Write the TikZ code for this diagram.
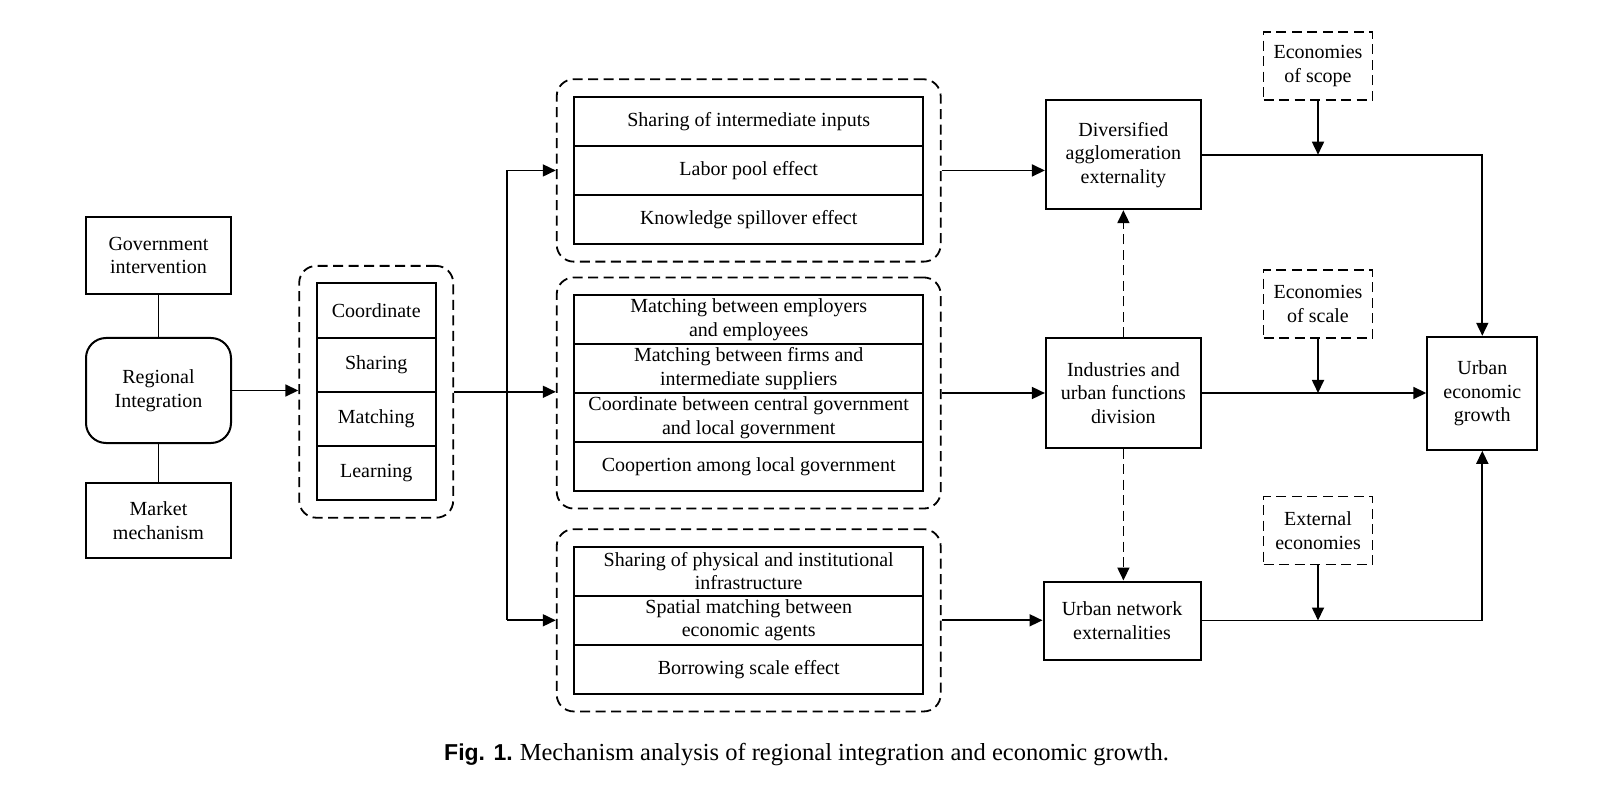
\documentclass[tikz,border=0pt]{standalone}
\usepackage{fontspec}
\setmainfont{Liberation Serif}
\setsansfont{Liberation Sans}
\usetikzlibrary{arrows.meta}
\usetikzlibrary{fit}

\begin{document}
\begin{tikzpicture}[x=1pt,y=-1pt,
  box/.style={draw,line width=2pt,align=center,inner sep=0pt,font=\fontsize{20}{23.5}\selectfont},
  cell/.style={box,minimum width=349pt,minimum height=49.1pt},
  cellsm/.style={box,minimum width=119pt,minimum height=54.2pt},
  dline/.style={line width=1.8pt,dash pattern=on 10pt off 5.5pt},
  grp/.style={draw,dline,rounded corners=17pt,inner sep=16.5pt},
  eco/.style={box,dline,minimum width=109pt,minimum height=68pt},
  arr/.style={line width=1.7pt,-{Triangle[length=13pt,width=12pt]}},
  conn/.style={line width=1.7pt}]
  \useasboundingbox (0,0) rectangle (1609,799);
  % left column
  \node[box,minimum width=145pt,minimum height=77pt] (gov) at (158.5,255.5) {Government\\intervention};
  \node[box,minimum width=145pt,minimum height=105pt,rounded corners=20pt] (ri) at (158.5,390.5) {Regional\\Integration};
  \node[box,minimum width=145pt,minimum height=75pt] (mkt) at (158.5,520.5) {Market\\mechanism};
  \draw[conn] (gov) -- (ri);
  \draw[conn] (ri) -- (mkt);
  % four ways
  \node[cellsm] (coord) at (376.2,310.5) {Coordinate};
  \node[cellsm] (shar) at (376.2,364.7) {Sharing};
  \node[cellsm] (match) at (376.2,418.9) {Matching};
  \node[cellsm] (learn) at (376.2,473.1) {Learning};
  \node[grp,fit=(coord)(learn)] (ways) {};
  % mechanism groups
  \node[cell] (t1) at (748.7,121.3) {Sharing of intermediate inputs};
  \node[cell] (t2) at (748.7,170.5) {Labor pool effect};
  \node[cell] (t3) at (748.7,219.6) {Knowledge spillover effect};
  \node[grp,fit=(t1)(t3)] (top) {};
  \node[cell] (m1) at (748.7,319.5) {Matching between employers\\and employees};
  \node[cell] (m2) at (748.7,368.5) {Matching between firms and\\intermediate suppliers};
  \node[cell] (m3) at (748.7,417.5) {Coordinate between central government\\and local government};
  \node[cell] (m4) at (748.7,466.5) {Coopertion among local government};
  \node[grp,fit=(m1)(m4)] (mid) {};
  \node[cell] (b1) at (748.7,571.2) {Sharing of physical and institutional\\infrastructure};
  \node[cell] (b2) at (748.7,620.3) {Spatial matching between\\economic agents};
  \node[cell] (b3) at (748.7,669.4) {Borrowing scale effect};
  \node[grp,fit=(b1)(b3)] (bot) {};
  \draw[arr] (ri.east) -- (ri.east -| ways.west);
  \coordinate (split) at (506.7,391.5);
  \draw[arr] (ways.east) -- (ways.east -| mid.west);
  \draw[conn] (split |- top.west) -- (split |- bot.west);
  \draw[arr] (split |- top.west) -- (top.west);
  \draw[arr] (split |- bot.west) -- (bot.west);
  % externalities
  \node[box,minimum width=155pt,minimum height=109pt] (div) at (1123.4,154.7) {Diversified\\agglomeration\\externality};
  \node[box,minimum width=155pt,minimum height=109pt] (ind) at (1123.4,393) {Industries and\\urban functions\\division};
  \node[box,minimum width=157pt,minimum height=78pt] (net) at (1122,620.5) {Urban network\\externalities};
  \node[box,minimum width=110pt,minimum height=113pt] (growth) at (1482.3,393.3) {Urban\\economic\\growth};
  \node[eco] (scope) at (1318,66.2) {Economies\\of scope};
  \node[eco] (scale) at (1318,304.2) {Economies\\of scale};
  \node[eco] (ext) at (1318,530.5) {External\\economies};
  \draw[arr] (top.east) -- (top.east -| div.west);
  \draw[arr] (mid.east) -- (mid.east -| ind.west);
  \draw[arr] (bot.east) -- (bot.east -| net.west);
  \draw[arr,dline] (ind.north) -- (div.south);
  \draw[arr,dline] (ind.south) -- (ind.south |- net.north);
  \draw[arr] (div.east) -| (growth.north);
  \draw[arr] (ind.east) -- (ind.east -| growth.west);
  \draw[arr] (net.east) -| (growth.south);
  \draw[arr] (scope.south) -- (scope.south |- div.east);
  \draw[arr] (scale.south) -- (scale.south |- ind.east);
  \draw[arr] (ext.south) -- (ext.south |- net.east);
  % caption
  \node[anchor=base west,inner sep=0pt,font=\fontsize{24.5}{28}\selectfont] (cap) at (444,760) {{\fontsize{23}{27}\selectfont\textsf{\textbf{Fig. 1.}}}\hspace{7pt}Mechanism analysis of regional integration and economic growth.};
\end{tikzpicture}
\end{document}
